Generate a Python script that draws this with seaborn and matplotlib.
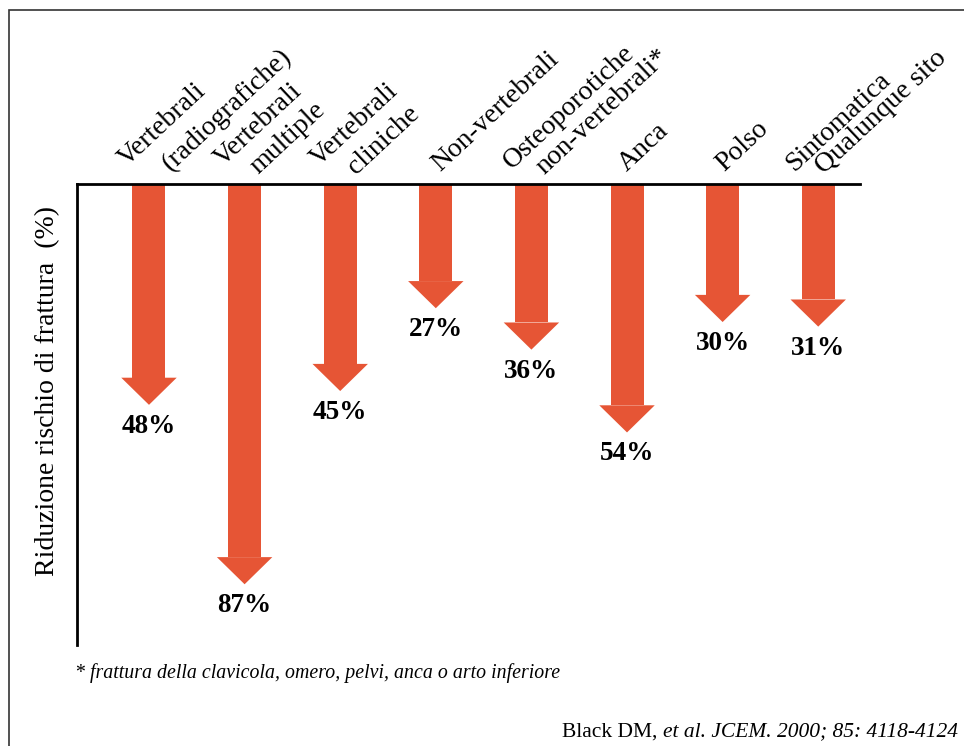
import matplotlib
matplotlib.use("Agg")
import matplotlib.pyplot as plt
import seaborn as sns
import pandas as pd
from matplotlib.patches import Polygon, Rectangle

# ---- data -------------------------------------------------------------
categories = [
    "Vertebrali (radiografiche)",
    "Vertebrali multiple",
    "Vertebrali cliniche",
    "Non-vertebrali",
    "Osteoporotiche non-vertebrali*",
    "Anca",
    "Polso",
    "Sintomatica Qualunque sito",
]
label_lines = [
    ["Vertebrali", "(radiografiche)"],
    ["Vertebrali", "multiple"],
    ["Vertebrali", "cliniche"],
    ["Non-vertebrali"],
    ["Osteoporotiche", "non-vertebrali*"],
    ["Anca"],
    ["Polso"],
    ["Sintomatica", "Qualunque sito"],
]
reduction = [48, 87, 45, 27, 36, 54, 30, 31]  # % fracture-risk reduction

y_label = "Riduzione rischio di frattura  (%)"
footnote = "* frattura della clavicola, omero, pelvi, anca o arto inferiore"
source_plain = "Black DM, "
source_italic = "et al. JCEM. 2000; 85: 4118-4124"

# ---- style ------------------------------------------------------------
sns.set_style("white")
plt.rcParams["font.family"] = ["Liberation Serif", "DejaVu Serif"]
plt.rcParams["text.color"] = "black"
ARROW = "#E65535"

W, H = 964, 746
fig = plt.figure(figsize=(W / 100, H / 100), dpi=100)

# axes box in pixels: left 77, right 860, top 184, bottom 645
ax = fig.add_axes([77 / W, (H - 645) / H, (860 - 77) / W, (645 - 184) / H])

HEAD_LEN = 5.9      # arrow head length in % units
HEAD_HALF = 0.29    # half width of arrow head in category units
SHAFT_W = 0.345     # shaft width in category units

df = pd.DataFrame({
    "categoria": categories,
    "riduzione": reduction,
})
df["fusto"] = df["riduzione"] - HEAD_LEN

sns.barplot(data=df, x="categoria", y="fusto", width=SHAFT_W, color=ARROW,
            saturation=1, linewidth=0, ax=ax)

# arrow heads pointing down to each value, with the value printed below
for i, v in enumerate(df["riduzione"]):
    ax.add_patch(Polygon([(i - HEAD_HALF, v - HEAD_LEN),
                          (i + HEAD_HALF, v - HEAD_LEN),
                          (i, v)],
                         closed=True, facecolor=ARROW, edgecolor="none"))
    ax.annotate(f"{v}%", xy=(i, v), xytext=(0, -9), textcoords="offset pixels",
                ha="center", va="top", fontsize=19.5, fontweight="bold",
                color="black", annotation_clip=False)

ax.set_ylim(100.2, 0)
ax.set_xlim(-0.753, 7.437)
ax.set_xticks([])
ax.set_yticks([])
ax.set_xlabel("")
ax.set_ylabel("")
for side in ("right", "bottom"):
    ax.spines[side].set_visible(False)
for side in ("top", "left"):
    ax.spines[side].set_visible(True)
    ax.spines[side].set_linewidth(2)
    ax.spines[side].set_color("black")

# rotated category labels above the baseline, one text per line
line_offsets = [
    [(-22, 17), (22, 12)],
    [(-22, 17), (14, 9)],
    [(-22, 17), (16, 9)],
    [(4, 12)],
    [(-20, 14), (13, 9)],
    [(0, 12)],
    [(2, 12)],
    [(-24, 12), (6, 9)],
]
for i, (lines, offs) in enumerate(zip(label_lines, line_offsets)):
    for txt, (dx, dy) in zip(lines, offs):
        ax.annotate(txt, xy=(i, 0), xytext=(dx, dy), textcoords="offset pixels",
                    rotation=43, rotation_mode="anchor", ha="left",
                    va="baseline", fontsize=20, color="black",
                    annotation_clip=False)

fig.text(48 / W, 1 - 391 / H, y_label, rotation=90, ha="center", va="center",
         fontsize=20, color="black")

fig.text(75 / W, 1 - 673 / H, footnote, ha="left", va="center",
         fontsize=14.3, fontstyle="italic", color="black")

src_it = fig.text(958 / W, 1 - 732 / H, source_italic, ha="right", va="center",
                  fontsize=15.5, fontstyle="italic", color="black")
fig.add_artist(plt.Annotation(source_plain, xy=(0, 0), xycoords=src_it,
                              ha="right", va="bottom", fontsize=15.5,
                              color="black"))

# outer frame
fig.add_artist(Rectangle((9 / W, -0.1), 1.2, (H - 10) / H + 0.1,
                         transform=fig.transFigure, fill=False,
                         edgecolor="#333333", linewidth=1.2))

fig.savefig("out.png", dpi=100)
